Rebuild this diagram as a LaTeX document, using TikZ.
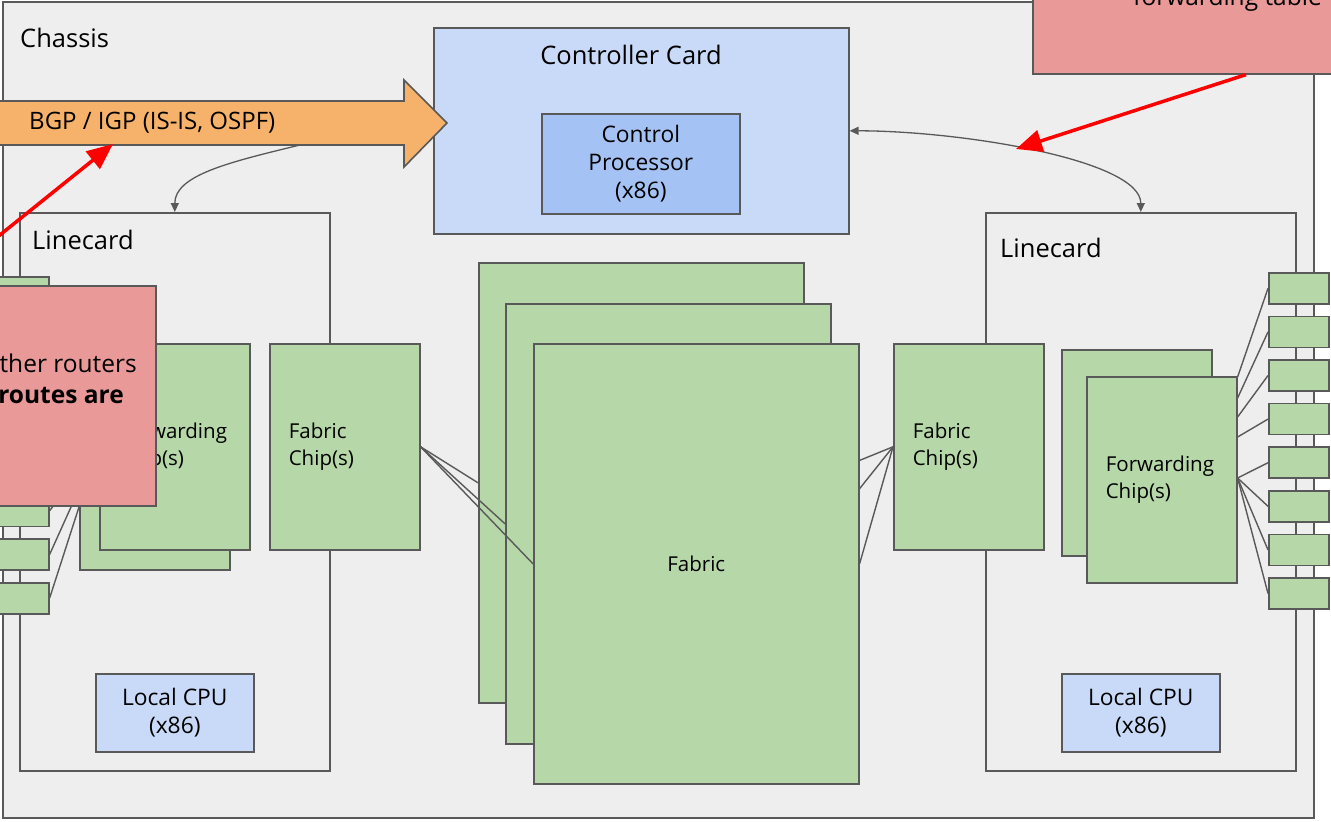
\documentclass[tikz,border=0pt]{standalone}
\usepackage{fontspec}
\setmainfont{Open Sans}
\usetikzlibrary{arrows.meta}

\definecolor{edgegray}{HTML}{595959}
\definecolor{bodygray}{HTML}{EEEEEE}
\definecolor{chipgreen}{HTML}{B6D7A8}
\definecolor{cardblue}{HTML}{C9DAF8}
\definecolor{cpublue}{HTML}{A4C2F4}
\definecolor{notered}{HTML}{EA9999}
\definecolor{bgporange}{HTML}{F6B26B}

\tikzset{
  box/.style={draw=edgegray, line width=1.6pt, inner sep=0pt, anchor=north west},
  card/.style={box, fill=bodygray},
  chip/.style={box, fill=chipgreen, minimum height=206, text width=112pt, inner xsep=19pt, align=left, font=\fontsize{20.5}{26.5}\selectfont},
  board/.style={box, fill=chipgreen, minimum width=325, minimum height=440, font=\fontsize{20.5}{26}\selectfont},
  port/.style={box, fill=chipgreen, minimum width=60, minimum height=31},
  cpu/.style={box, fill=cardblue, minimum width=158, minimum height=78, align=center, font=\fontsize{22.8}{28}\selectfont},
  note/.style={box, fill=notered},
  title/.style={inner sep=0pt, font=\fontsize{25.5}{30}\selectfont},
  wire/.style={draw=edgegray, line width=1.4pt},
  ctl/.style={draw=edgegray, line width=1.3pt},
  alert/.style={draw=red, line width=3.5pt, -{Triangle[length=26pt,width=22pt]}},
}

\begin{document}
\begin{tikzpicture}[x=1pt, y=-1pt]
\useasboundingbox (0,0) rectangle (1331,822);
\clip (0,0) rectangle (1331,822);

% chassis
\node[card, minimum width=1311, minimum height=816] (chassis) at (2,1) {};
\node[title, anchor=west] (chassislbl) at (20,38) {Chassis};

% linecards
\node[card, minimum width=310, minimum height=558] (lcL) at (19,212) {};
\node[card, minimum width=310, minimum height=558] (lcR) at (985,212) {};
\node[title, anchor=west] (lcLlbl) at (32,240) {Linecard};
\node[title, anchor=west] (lcRlbl) at (1000,248) {Linecard};

% controller card
\node[box, fill=cardblue, minimum width=415, minimum height=206] (ctrl) at (433,27) {};
\node[title] (ctrllbl) at (631,55) {Controller Card};
\node[box, fill=cpublue, minimum width=198, minimum height=100, align=center,
      font=\fontsize{22.8}{28}\selectfont] (cp) at (541,113) {Control\\Processor\\(x86)};

% fabric
\node[board] (fbA) at (478,262) {};
\node[board] (fbB) at (505,303) {};
\node[chip] (fcL) at (269,343) {Fabric\\Chip(s)};
\node[chip] (fcR) at (893,343) {Fabric\\Chip(s)};
\foreach \b in {fbA,fbB} {
  \draw[wire] (fcL.east) -- (\b.west);
  \draw[wire] (fcR.west) -- (\b.east);
}
\node[board] (fbC) at (533,343) {Fabric};
\draw[wire] (fcL.east) -- (fbC.west);
\draw[wire] (fcR.west) -- (fbC.east);

% forwarding chips
\node[chip] (fwLb) at (79,363) {};
\node[chip] (fwL) at (99,343) {Forwarding\\Chip(s)};
\node[chip] (fwRb) at (1061,349) {};
\node[chip] (fwR) at (1086,376) {Forwarding\\Chip(s)};

% ports
\foreach \i in {0,...,7} {
  \node[port] (lp\i) at (-12,{276+43.7*\i}) {};
  \node[port] (rp\i) at (1268,{272+43.6*\i}) {};
}
\foreach \i/\d in {0/1,1/22,2/41,3/61,4/102,5/102,6/102,7/102} {
  \draw[wire] ([yshift=-\d]fwL.north west) -- (lp\i.east);
  \draw[wire] ([yshift=-\d]fwR.north east) -- (rp\i.west);
}

% local cpus
\node[cpu] (cpuL) at (95,673) {Local CPU\\(x86)};
\node[cpu] (cpuR) at (1061,673) {Local CPU\\(x86)};

% routing protocols
\filldraw[fill=bgporange, draw=edgegray, line width=1.6pt]
  (-20,101) -- (404,101) -- (404,80) -- (447,123) -- (404,167) -- (404,145) -- (-20,145) -- cycle;
\node[title, anchor=west, font=\fontsize{24}{30}\selectfont] (bgp) at (29,123) {BGP / IGP (IS-IS, OSPF)};
\coordinate (bgpfoot) at (300,145);

% control sessions
\draw[ctl, -{Triangle[length=9pt,width=8pt]}] (bgpfoot) .. controls +(-70,17) and +(0,-37) .. (lcL.north);
\draw[ctl, {Triangle[length=9pt,width=8pt]}-{Triangle[length=9pt,width=8pt]}]
  (ctrl.east) .. controls +(112,0) and +(0,-52) .. (lcR.north);

% notes
\node[note, minimum width=215, minimum height=220] (noteL) at (-60,285) {};
\node[title, anchor=east, font=\fontsize{24.5}{30}\selectfont] (noteLa) at (137,363) {ther routers};
\node[title, anchor=east, font=\fontsize{24.5}{30}\selectfont\bfseries] (noteLb) at (124,396) {routes are};
\node[note, minimum width=330, minimum height=130] (noteR) at (1032,-57) {};
\node[title, anchor=base west, font=\fontsize{24.5}{30}\selectfont] (noteRa) at (1133,5) {forwarding table};

% pointers
\coordinate (bgpsrc) at (-20,251);
\coordinate (bgptip) at (113,144);
\coordinate (tbltip) at (1016,149);
\draw[alert] (bgpsrc) -- (bgptip);
\draw[alert] ([xshift=214]noteR.south west) -- (tbltip);

\end{tikzpicture}
\end{document}
